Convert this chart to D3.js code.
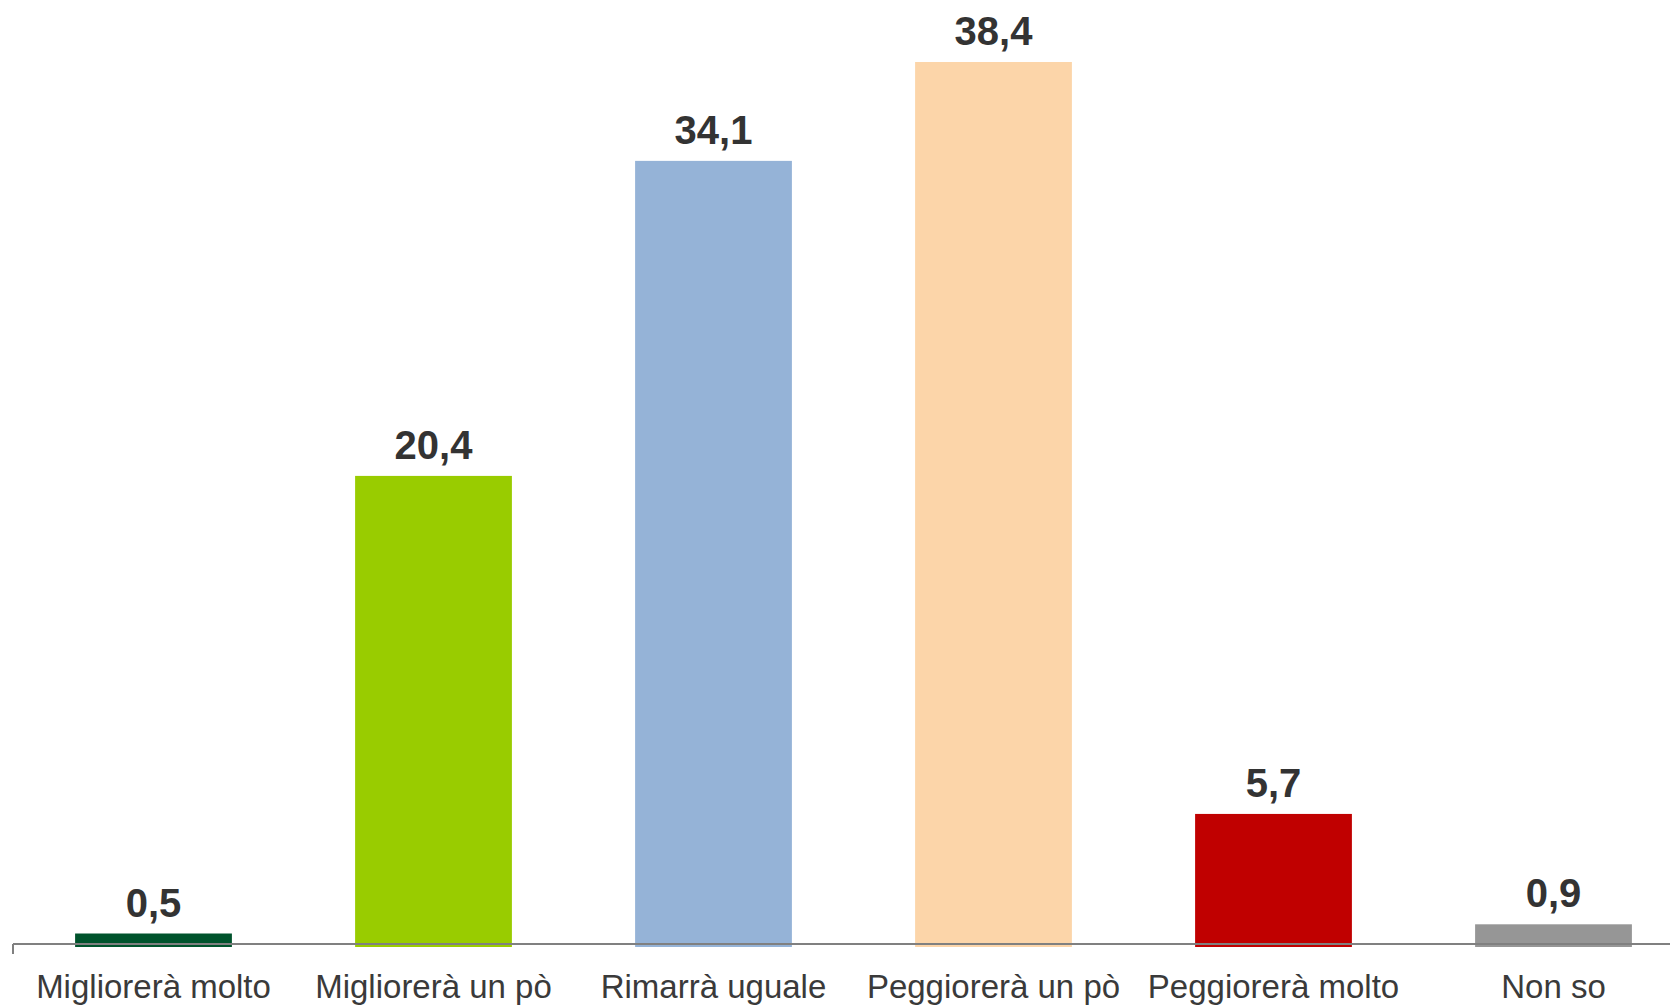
<!DOCTYPE html>
<html>
<head>
<meta charset="utf-8">
<script src="https://cdn.jsdelivr.net/npm/d3@7"></script>
<style>
  html, body { margin: 0; padding: 0; background: #ffffff; }
  svg { display: block; }
</style>
</head>
<body>
<svg id="chart" width="1670" height="1008"></svg>
<script>
const categories = ["Migliorerà molto", "Migliorerà un pò", "Rimarrà uguale", "Peggiorerà un pò", "Peggiorerà molto", "Non so"];
const values = [0.5, 20.4, 34.1, 38.4, 5.7, 0.9];
const valueLabels = ["0,5", "20,4", "34,1", "38,4", "5,7", "0,9"];
const colors = ["#00532C", "#99CC00", "#95B3D7", "#FCD5A9", "#C00000", "#969696"];

const svg = d3.select("#chart");
const W = 1670, H = 1008;
const baseY = 945;

const x = d3.scaleBand()
  .domain(categories)
  .range([13.5, 1693.5])
  .paddingInner(0.44)
  .paddingOuter(0.22);

const y = d3.scaleLinear()
  .domain([0, 38.4])
  .range([baseY, 62]);

// bars
svg.append("g").selectAll("rect")
  .data(categories)
  .join("rect")
  .attr("x", d => x(d))
  .attr("width", x.bandwidth())
  .attr("y", (d, i) => y(values[i]))
  .attr("height", (d, i) => baseY + 2 - y(values[i]))
  .attr("fill", (d, i) => colors[i]);

// axis
const axis = d3.axisBottom(x).tickSize(0).tickPadding(0);
const gAxis = svg.append("g").attr("transform", `translate(0,944)`).call(axis);
gAxis.select(".domain").remove();
gAxis.append("line")
  .attr("x1", 13).attr("x2", W)
  .attr("y1", 0).attr("y2", 0)
  .attr("stroke", "#808080").attr("stroke-width", 2);
gAxis.append("line")
  .attr("x1", 13).attr("x2", 13)
  .attr("y1", 0).attr("y2", 10)
  .attr("stroke", "#808080").attr("stroke-width", 2);
gAxis.selectAll(".tick text")
  .attr("y", 54)
  .attr("dy", null)
  .attr("fill", "#3a3a3a")
  .style("font-family", "'Liberation Sans', Arial, sans-serif")
  .style("font-size", "33px");

// value labels
svg.append("g").selectAll("text")
  .data(categories)
  .join("text")
  .attr("x", d => x(d) + x.bandwidth() / 2)
  .attr("y", (d, i) => y(values[i]) - 17)
  .attr("text-anchor", "middle")
  .attr("fill", "#333333")
  .style("font-family", "'Liberation Sans', Arial, sans-serif")
  .style("font-weight", "bold")
  .style("font-size", "40px")
  .text((d, i) => valueLabels[i]);
</script>
</body>
</html>
